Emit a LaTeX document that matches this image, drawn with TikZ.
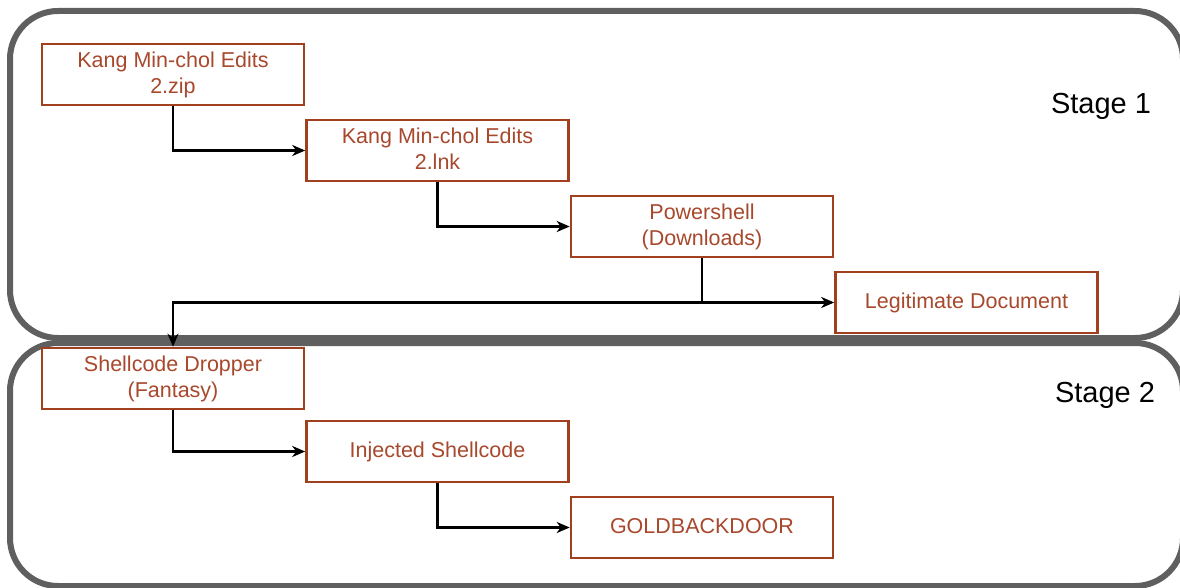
\documentclass[tikz,border=0pt]{standalone}
\usepackage{fontspec}
\setmainfont{Liberation Sans}
\usetikzlibrary{arrows.meta}

\definecolor{stagegrey}{HTML}{5F5F5F}
\definecolor{boxrust}{HTML}{A0401F}
\definecolor{textrust}{HTML}{A8482C}

\tikzset{
    stepbox/.style={draw=boxrust, line width=2.6pt, fill=white,
        minimum width=262pt, minimum height=61pt, inner sep=0pt,
        align=center, text=textrust, text depth=4pt,
        font=\fontsize{21.5}{26}\selectfont},
    flow/.style={line width=2.6pt, -{Stealth[length=13pt,width=11pt,inset=4pt]}},
    stagebox/.style={draw=stagegrey, line width=6pt, rounded corners=48pt},
    stagelabel/.style={font=\fontsize{29}{34}\selectfont}
}

\begin{document}
\begin{tikzpicture}[x=1pt, y=-1pt]

    % --- Canvas ---
    \useasboundingbox (0,0) rectangle (1180,588);

    % --- Stage frames ---
    \draw[stagebox] (10,11) rectangle (1183,338);
    \draw[stagebox] (10,343) rectangle (1183,586);

    \node[stagelabel] (stageone) at (1101,106) {Stage 1};
    \node[stagelabel] (stagetwo) at (1105,395) {Stage 2};

    % --- Stage 1 boxes ---
    \node[stepbox] (zip)   at (173,74.5)   {Kang Min-chol Edits\\2.zip};
    \node[stepbox] (lnk)   at (437.5,150.5) {Kang Min-chol Edits\\2.lnk};
    \node[stepbox] (pwsh)  at (702,226.5)  {Powershell\\(Downloads)};
    \node[stepbox] (legit) at (966.5,302.5) {Legitimate Document};

    % --- Stage 2 boxes ---
    \node[stepbox] (dropper)  at (173,378.5)  {Shellcode Dropper\\(Fantasy)};
    \node[stepbox] (injected) at (437.5,451.5) {Injected Shellcode};
    \node[stepbox] (gold)     at (702,527.5)  {GOLDBACKDOOR};

    % --- Branch point below Powershell ---
    \coordinate (split) at (pwsh.south |- legit.west);

    % --- Connectors ---
    \draw[flow] (zip.south) |- (lnk.west);
    \draw[flow] (lnk.south) |- (pwsh.west);
    \draw[line width=2.6pt] (pwsh.south) -- (split);
    \draw[flow] (split) -- (legit.west);
    \draw[flow] (split) -| (dropper.north);
    \draw[flow] (dropper.south) |- (injected.west);
    \draw[flow] (injected.south) |- (gold.west);

\end{tikzpicture}
\end{document}
